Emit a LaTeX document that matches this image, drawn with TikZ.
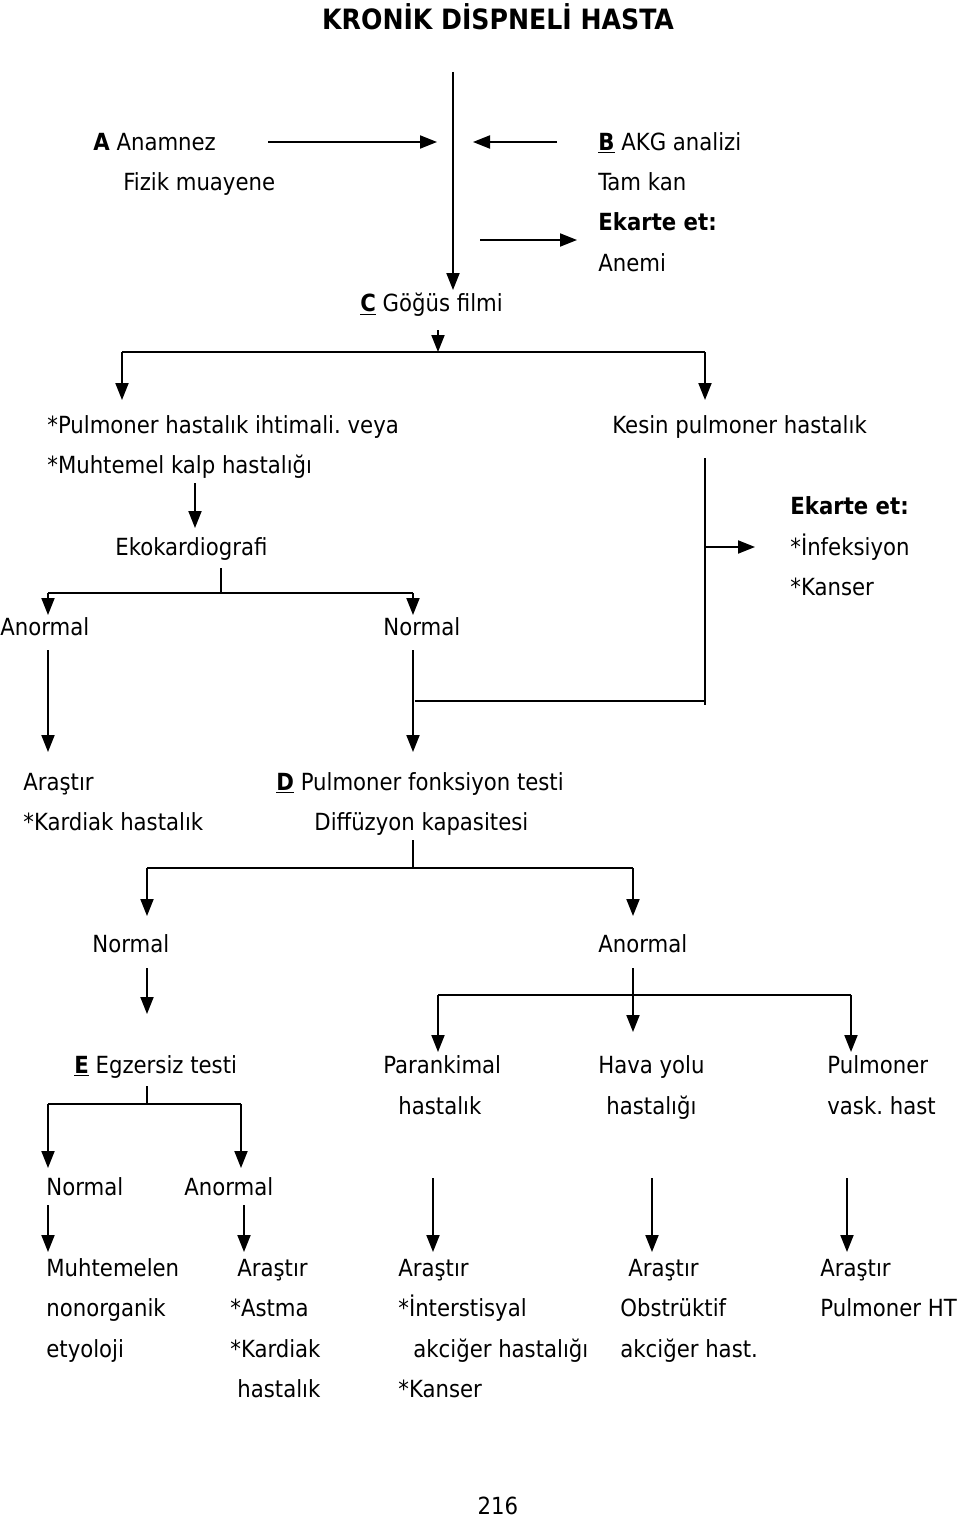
\documentclass[tikz,border=0pt]{standalone}
\usepackage{fontspec}
\setmainfont{DejaVu Sans Condensed}
\usetikzlibrary{arrows.meta}
\frenchspacing

\newcommand{\ulb}[1]{\underline{\textbf{#1}}}

\begin{document}
\begin{tikzpicture}[x=0.5pt, y=-0.5pt, font=\fontsize{11.8}{14}\selectfont,
    txt/.style={anchor=base west, inner sep=0pt},
    arr/.style={-{Triangle[length=8.5pt,width=6.5pt]}, line width=1pt},
    ln/.style={line width=1pt}]
    \useasboundingbox (0,0) rectangle (960,1520);

    % Title and page number
    \node[font=\fontsize{14}{16}\selectfont\bfseries] (title) at (498,17) {KRONİK DİSPNELİ HASTA};
    \node (page) at (498,1506) {216};

    % Texts
    \foreach \n/\x/\y/\t in {
        anam/93/142/{\textbf{A} Anamnez}, fizik/123/182/{Fizik muayene},
        akg/598/142/{\ulb{B} AKG analizi}, tamkan/598/182/{Tam kan},
        ekarteA/598/222/{\textbf{Ekarte et:}}, anemi/598/263/{Anemi},
        gogus/360/303/{\ulb{C} Göğüs filmi},
        pulm/47/425/{*Pulmoner hastalık ihtimali. veya}, kalp/47/465/{*Muhtemel kalp hastalığı},
        kesin/612/425/{Kesin pulmoner hastalık},
        eko/115/547/{Ekokardiografi},
        ekarteB/790/506/{\textbf{Ekarte et:}}, infek/790/547/{*İnfeksiyon}, kanserA/790/587/{*Kanser},
        anormA/0/627/{Anormal}, normA/383/627/{Normal},
        arasA/23/782/{Araştır}, kardA/23/822/{*Kardiak hastalık},
        pft/276/782/{\ulb{D} Pulmoner fonksiyon testi}, diff/314/822/{Diffüzyon kapasitesi},
        normB/92/944/{Normal}, anormB/598/944/{Anormal},
        egz/74/1065/{\ulb{E} Egzersiz testi},
        paran/383/1065/{Parankimal}, paranb/398/1106/{hastalık},
        hava/598/1065/{Hava yolu}, havab/606/1106/{hastalığı},
        vask/827/1065/{Pulmoner}, vaskb/827/1106/{vask. hast},
        normC/46/1187/{Normal}, anormC/184/1187/{Anormal},
        muht/46/1268/{Muhtemelen}, nonorg/46/1308/{nonorganik}, etyo/46/1349/{etyoloji},
        arasB/237/1268/{Araştır}, astma/230/1308/{*Astma}, kardB/230/1349/{*Kardiak}, kardBb/237/1389/{hastalık},
        arasC/398/1268/{Araştır}, inter/398/1308/{*İnterstisyal}, akcA/413/1349/{akciğer hastalığı}, kanserB/398/1389/{*Kanser},
        arasD/628/1268/{Araştır}, obst/620/1308/{Obstrüktif}, akcB/620/1349/{akciğer hast.},
        arasE/820/1268/{Araştır}, pht/820/1308/{Pulmoner HT}} {
        \node[txt] (\n) at (\x,{\y+8}) {\t};
    }

    % Vertical arrows
    \foreach \n/\x/\ya/\yb in {
        main/453/72/290, film/438/330/352,
        toPulm/122/352/400, toKesin/705/352/400,
        toEko/195/483/528, toAnormA/48/593/615, toNormA/413/593/615,
        toArasA/48/650/752, toPft/413/650/752,
        toNormB/147/868/916, toAnormB/633/868/916, toEgz/147/968/1014,
        toHava/633/968/1032, toParan/438/995/1052, toVask/851/995/1052,
        toNormC/48/1104/1168, toAnormC/241/1104/1168,
        toMuht/48/1205/1252, toArasB/244/1205/1252, toArasC/433/1178/1252,
        toArasD/652/1178/1252, toArasE/847/1178/1252} {
        \coordinate (\n-s) at (\x,\ya);
        \coordinate (\n-e) at (\x,\yb);
        \draw[arr] (\n-s) -- (\n-e);
    }

    % Horizontal arrows
    \foreach \n/\xa/\xb/\y in {
        fromA/268/437/142, fromB/557/473/142, toEkarteA/480/577/240, toEkarteB/705/755/547} {
        \coordinate (\n-s) at (\xa,\y);
        \coordinate (\n-e) at (\xb,\y);
        \draw[arr] (\n-s) -- (\n-e);
    }

    % Branch lines
    \draw[ln] (toPulm-s) -- (toKesin-s);
    \coordinate (ekoDown) at (221,568);
    \draw[ln] (ekoDown) -- (221,593);
    \draw[ln] (toAnormA-s) -- (toNormA-s);
    \coordinate (kesinDown) at (705,458);
    \coordinate (kesinEnd) at (705,705);
    \draw[ln] (kesinDown) -- (kesinEnd);
    \coordinate (joinL) at (415,701);
    \draw[ln] (joinL) -- (joinL -| kesinEnd);
    \coordinate (diffDown) at (413,840);
    \draw[ln] (diffDown) -- (toPft-e |- toNormB-s);
    \draw[ln] (toNormB-s) -- (toAnormB-s);
    \draw[ln] (toParan-s) -- (toVask-s);
    \coordinate (egzDown) at (147,1086);
    \draw[ln] (egzDown) -- (147,1104);
    \draw[ln] (toNormC-s) -- (toAnormC-s);
\end{tikzpicture}
\end{document}
